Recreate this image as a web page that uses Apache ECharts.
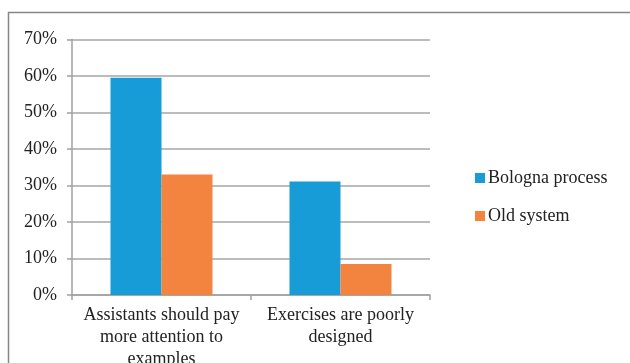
<!DOCTYPE html>
<html>
<head>
<meta charset="utf-8">
<script src="https://cdn.jsdelivr.net/npm/echarts@6/dist/echarts.min.js"></script>
<style>
  html, body { margin: 0; padding: 0; background: #fff; }
  #chart { width: 630px; height: 363px; }
</style>
</head>
<body>
<div id="chart"></div>
<script>
const categories = ['Assistants should pay\nmore attention to\nexamples', 'Exercises are poorly\ndesigned'];
const bologna = [59.5, 31.1];
const oldSystem = [33.0, 8.5];
const seriesNames = ['Bologna process', 'Old system'];

const chartDom = echarts.init(document.getElementById('chart'));
const font = "'Liberation Serif', 'Times New Roman', serif";

chartDom.setOption({
  animation: false,
  textStyle: { fontFamily: font },
  graphic: [
    {
      type: 'rect',
      shape: { x: 8.5, y: 12.5, width: 700, height: 500 },
      style: { fill: 'none', stroke: '#868686', lineWidth: 1.5 }
    }
  ],
  legend: {
    orient: 'vertical',
    left: 475,
    top: 169,
    padding: 0,
    itemWidth: 10,
    itemHeight: 10,
    itemGap: 20,
    icon: 'rect',
    data: seriesNames,
    textStyle: { fontFamily: font, fontSize: 18, color: '#222', padding: [0, 0, 0, -2] }
  },
  grid: {
    left: 72,
    right: 200,
    top: 39.5,
    bottom: 68,
    outerBoundsMode: 'none',
    containLabel: false
  },
  xAxis: {
    type: 'category',
    data: categories,
    axisLine: { lineStyle: { color: '#a0a0a0', width: 1.5 } },
    axisTick: { show: true, length: 5, lineStyle: { color: '#a0a0a0', width: 1.5 } },
    axisLabel: {
      color: '#222',
      fontFamily: font,
      fontSize: 18,
      lineHeight: 22,
      margin: 9,
      interval: 0
    }
  },
  yAxis: {
    type: 'value',
    min: 0,
    max: 70,
    interval: 10,
    axisLine: { show: true, lineStyle: { color: '#a0a0a0', width: 1.5 } },
    axisTick: { show: true, length: 5, lineStyle: { color: '#a0a0a0', width: 1.5 } },
    splitLine: { lineStyle: { color: '#a6a6a6', width: 1.5 } },
    axisLabel: {
      formatter: '{value}%',
      color: '#222',
      fontFamily: font,
      fontSize: 18,
      margin: 15
    }
  },
  series: [
    {
      name: seriesNames[0],
      type: 'bar',
      data: bologna,
      barWidth: 51,
      barGap: 0,
      itemStyle: { color: '#179cd8' }
    },
    {
      name: seriesNames[1],
      type: 'bar',
      data: oldSystem,
      barWidth: 51,
      barGap: 0,
      itemStyle: { color: '#f38440' }
    }
  ]
});
</script>
</body>
</html>
